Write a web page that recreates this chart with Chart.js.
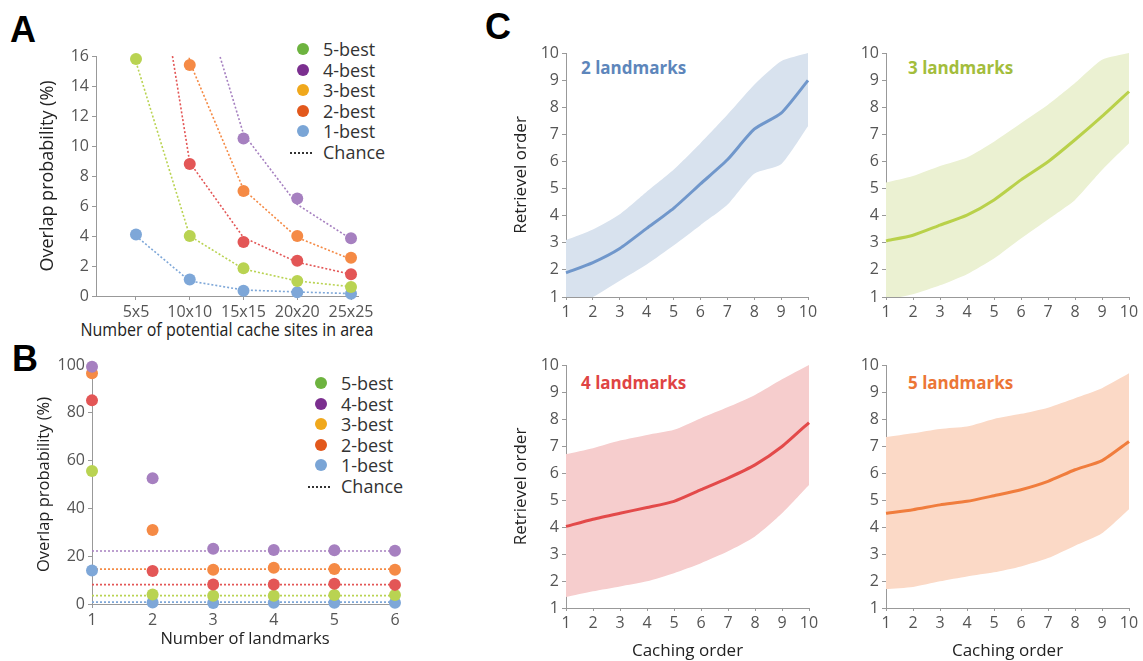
<!DOCTYPE html>
<html>
<head>
<meta charset="utf-8">
<script src="https://cdn.jsdelivr.net/npm/chart.js@4.4.1/dist/chart.umd.min.js"></script>
<style>
    body { margin: 0; width: 1143px; height: 661px; position: relative; background: #fff; overflow: hidden; font-family: 'Open Sans', sans-serif; }
    canvas { position: absolute; left: 0; top: 0; }
    .letter { position: absolute; font: bold 36px 'Liberation Sans', Arial, sans-serif; line-height: 36px; color: #000; }
    .legend { position: absolute; font-size: 18px; color: #333; }
    .legend div { position: relative; height: 20.6px; line-height: 20.6px; padding-left: 26px; white-space: nowrap; }
    .legend .dot { position: absolute; left: 0px; top: 4px; width: 12px; height: 12px; border-radius: 50%; padding: 0; }
    .legend .dash { position: absolute; left: -7px; top: 10px; width: 22px; border-top: 2px dotted #333; padding: 0; height: 0; }
    .ptitle { position: absolute; font: bold 17px 'Open Sans', sans-serif; line-height: 20px; white-space: nowrap; }
    .axtitle { position: absolute; font-size: 18px; line-height: 20px; color: #222; text-align: center; white-space: nowrap; transform: scaleX(0.89); transform-origin: center; }
</style>
</head>
<body>
<div class="letter" style="left:10px; top:12px;">A</div>
<div class="letter" style="left:12px; top:341px;">B</div>
<div class="letter" style="left:485px; top:9px;">C</div>

<div class="legend" id="legendA" style="left:297px; top:39px;"></div>
<div class="legend" id="legendB" style="left:315px; top:373px;"></div>

<div class="axtitle" style="left:27px; width:400px; top:319px;">Number of potential cache sites in area</div>

<div class="ptitle" style="left:581px; top:58px; color:#5d86bb;">2 landmarks</div>
<div class="ptitle" style="left:908px; top:58px; color:#a3bd3c;">3 landmarks</div>
<div class="ptitle" style="left:581px; top:373px; color:#df4444;">4 landmarks</div>
<div class="ptitle" style="left:908px; top:373px; color:#ec7636;">5 landmarks</div>

<canvas id="chartA" width="1143" height="661"></canvas>
<canvas id="chartB" width="1143" height="661"></canvas>
<canvas id="chartC1" width="1143" height="661"></canvas>
<canvas id="chartC2" width="1143" height="661"></canvas>
<canvas id="chartC3" width="1143" height="661"></canvas>
<canvas id="chartC4" width="1143" height="661"></canvas>

<script>
// ---- panel A: overlap vs area size ----
const sitesA = ['5x5', '10x10', '15x15', '20x20', '25x25'];
const a1best = [4.1, 1.1, 0.35, 0.25, 0.15];
const a2best = [null, 8.8, 3.6, 2.35, 1.45];
const a3best = [null, 15.4, 7.0, 4.0, 2.55];
const a4best = [null, null, 10.5, 6.5, 3.85];
const a5best = [15.8, 4.0, 1.85, 1.0, 0.6];
const aChance1 = [4.0, 1.0, 0.4, 0.27, 0.16];
const aChance2 = [31, 8.9, 3.9, 2.25, 1.45];
const aChance3 = [45, 15.6, 7.1, 3.9, 2.45];
const aChance4 = [60, 22.6, 10.8, 6.1, 3.8];
const aChance5 = [15.6, 4.0, 1.8, 1.0, 0.62];
const yTicksA = [0, 2, 4, 6, 8, 10, 12, 14, 16];

// ---- panel B: overlap vs number of landmarks ----
const landmarksB = [1, 2, 3, 4, 5, 6];
const b1best = [14, 0.6, 0.4, 0.5, 0.5, 0.5];
const b2best = [85.2, 13.8, 8.2, 8.2, 8.5, 8.0];
const b3best = [96.5, 31, 14.3, 15.2, 14.6, 14.3];
const b4best = [99.3, 52.6, 23.1, 22.6, 22.5, 22.3];
const b5best = [55.6, 4.0, 3.5, 3.5, 3.8, 3.8];
const bChance1 = [0.8, 0.8, 0.8, 0.8, 0.8, 0.8];
const bChance2 = [8.1, 8.1, 8.1, 8.1, 8.1, 8.1];
const bChance3 = [14.6, 14.6, 14.6, 14.6, 14.6, 14.6];
const bChance4 = [22.2, 22.2, 22.2, 22.2, 22.2, 22.2];
const bChance5 = [3.5, 3.5, 3.5, 3.5, 3.5, 3.5];

// ---- panel C: retrieval vs caching order ----
const cachingOrder = ['1', '2', '3', '4', '5', '6', '7', '8', '9', '10'];
const mean2 = [1.89, 2.27, 2.79, 3.53, 4.27, 5.17, 6.06, 7.19, 7.78, 8.99];
const upper2 = [3.10, 3.49, 4.05, 4.88, 5.69, 6.67, 7.72, 8.83, 9.7, 10];
const lower2 = [0.6, 1.0, 1.6, 2.2, 2.9, 3.65, 4.4, 5.55, 5.9, 7.3];
const mean3 = [3.07, 3.28, 3.65, 4.02, 4.58, 5.32, 5.99, 6.8, 7.66, 8.58];
const upper3 = [5.22, 5.46, 5.83, 6.15, 6.73, 7.41, 8.09, 8.89, 9.75, 10];
const lower3 = [0.9, 1.1, 1.43, 1.84, 2.42, 3.16, 3.86, 4.58, 5.68, 6.67];
const mean4 = [4.02, 4.29, 4.51, 4.72, 4.95, 5.38, 5.81, 6.30, 6.98, 7.87];
const upper4 = [6.70, 6.92, 7.20, 7.41, 7.60, 8.03, 8.44, 8.89, 9.47, 10];
const lower4 = [1.41, 1.62, 1.80, 1.99, 2.29, 2.66, 3.10, 3.65, 4.51, 5.56];
const mean5 = [4.51, 4.64, 4.82, 4.95, 5.16, 5.38, 5.69, 6.12, 6.46, 7.17];
const upper5 = [7.33, 7.47, 7.63, 7.72, 8.0, 8.19, 8.42, 8.77, 9.14, 9.69];
const lower5 = [1.70, 1.78, 1.99, 2.17, 2.32, 2.54, 2.85, 3.31, 3.77, 4.66];

const bestNames = ['5-best', '4-best', '3-best', '2-best', '1-best'];
const legendColors = ['#6db33f', '#7b2f8f', '#f0a81c', '#e2581c', '#7aa5d6'];
const plotColors = { c5: '#b9d352', c4: '#a680c0', c3: '#f58a45', c2: '#e35656', c1: '#7ea7d8' };

const tickFont = { family: 'Open Sans', size: 16 };
const axisGray = '#999';

function titleFont(size) {
    return { family: 'Open Sans', size: size, lineHeight: 1 };
}

function buildLegend(id) {
    const box = document.getElementById(id);
    bestNames.forEach((name, i) => {
        const row = document.createElement('div');
        row.innerHTML = `<span class="dot" style="background:${legendColors[i]}"></span>${name}`;
        box.appendChild(row);
    });
    const row = document.createElement('div');
    row.innerHTML = '<span class="dash"></span>Chance';
    box.appendChild(row);
}

function xyPoints(xs, ys) {
    return xs.map((x, i) => ({ x: x, y: ys[i] }));
}

function pointSet(data, color) {
    return { data, showLine: false, pointRadius: 6, pointHoverRadius: 6, pointBackgroundColor: color, pointBorderWidth: 0, borderWidth: 0, clip: false };
}

function chanceSet(data, color) {
    return { data, pointRadius: 0, borderColor: color, borderWidth: 1.6, borderDash: [2, 2], fill: false };
}

function baseAxis(opts) {
    return Object.assign({
        grid: { display: true, drawOnChartArea: false, tickLength: 4, color: axisGray },
        border: { display: true, color: axisGray, width: 1 },
        ticks: { font: tickFont, color: '#555', padding: 3, maxRotation: 0, autoSkip: false }
    }, opts);
}

// padding puts the plot area where the reference has it
function layoutFor(box, yW, xH) {
    return { padding: { left: box.left - yW, top: box.top, right: 1143 - box.right, bottom: 661 - box.bottom - xH } };
}

function commonOptions(box, yW, xH) {
    return {
        responsive: false,
        animation: false,
        layout: layoutFor(box, yW, xH),
        plugins: { legend: { display: false }, tooltip: { enabled: false } }
    };
}

document.addEventListener('DOMContentLoaded', () => {
    buildLegend('legendA');
    buildLegend('legendB');

    // ---------- A ----------
    const xA = sitesA.map((_, i) => i + 1);
    const boxA = { left: 96, top: 56, right: 358, bottom: 296 };
    const optsA = commonOptions(boxA, 57, 43);
    optsA.scales = {
        x: baseAxis({
            type: 'linear', min: 0.256, max: 5.13,
            afterBuildTicks: s => { s.ticks = xA.map(v => ({ value: v })); },
            afterFit: s => { s.height = 43; }
            // title is an html div: it is wider than the axis
        }),
        y: baseAxis({
            min: 0, max: 16,
            afterBuildTicks: s => { s.ticks = yTicksA.map(v => ({ value: v })); },
            afterFit: s => { s.width = 57; },
            title: { display: true, text: 'Overlap probability (%)', font: titleFont(18), color: '#222', padding: 0 }
        })
    };
    optsA.scales.x.ticks.callback = v => sitesA[v - 1];
    new Chart(document.getElementById('chartA'), {
        type: 'line',
        data: {
            datasets: [
                pointSet(xyPoints(xA, a4best), plotColors.c4),
                pointSet(xyPoints(xA, a3best), plotColors.c3),
                pointSet(xyPoints(xA, a2best), plotColors.c2),
                pointSet(xyPoints(xA, a5best), plotColors.c5),
                pointSet(xyPoints(xA, a1best), plotColors.c1),
                chanceSet(xyPoints(xA, aChance4), plotColors.c4),
                chanceSet(xyPoints(xA, aChance3), plotColors.c3),
                chanceSet(xyPoints(xA, aChance2), plotColors.c2),
                chanceSet(xyPoints(xA, aChance5), plotColors.c5),
                chanceSet(xyPoints(xA, aChance1), plotColors.c1)
            ]
        },
        options: optsA
    });

    // ---------- B ----------
    const boxB = { left: 92, top: 365, right: 398, bottom: 604 };
    const optsB = commonOptions(boxB, 56, 44);
    optsB.scales = {
        x: baseAxis({
            type: 'linear', min: 1, max: 6.05,
            afterBuildTicks: s => { s.ticks = landmarksB.map(v => ({ value: v })); },
            afterFit: s => { s.height = 44; },
            title: { display: true, text: 'Number of landmarks', font: titleFont(16.5), color: '#222', padding: 0 }
        }),
        y: baseAxis({
            min: 0, max: 100,
            ticks: { font: tickFont, color: '#555', padding: 3, stepSize: 20 },
            afterFit: s => { s.width = 56; },
            title: { display: true, text: 'Overlap probability (%)', font: titleFont(16.5), color: '#222', padding: 0 }
        })
    };
    new Chart(document.getElementById('chartB'), {
        type: 'line',
        data: {
            datasets: [
                pointSet(xyPoints(landmarksB, b4best), plotColors.c4),
                pointSet(xyPoints(landmarksB, b3best), plotColors.c3),
                pointSet(xyPoints(landmarksB, b2best), plotColors.c2),
                pointSet(xyPoints(landmarksB, b5best), plotColors.c5),
                pointSet(xyPoints(landmarksB, b1best), plotColors.c1),
                chanceSet(xyPoints(landmarksB, bChance4), plotColors.c4),
                chanceSet(xyPoints(landmarksB, bChance3), plotColors.c3),
                chanceSet(xyPoints(landmarksB, bChance2), plotColors.c2),
                chanceSet(xyPoints(landmarksB, bChance5), plotColors.c5),
                chanceSet(xyPoints(landmarksB, bChance1), plotColors.c1)
            ]
        },
        options: optsB
    });

    // ---------- C ----------
    function bandChart(id, box, mean, upper, lower, lineColor, fillColor, yTitle, xTitle) {
        const yW = yTitle ? box.left - 513 : 40;
        const xH = xTitle ? 660 - box.bottom : 30;
        const opts = commonOptions(box, yW, xH);
        opts.scales = {
            x: baseAxis({
                type: 'category', offset: false,
                grid: { display: true, drawOnChartArea: false, tickLength: 3, color: axisGray },
                afterFit: s => { s.height = xH; },
                title: { display: !!xTitle, text: xTitle || '', font: titleFont(17), color: '#222', padding: 0 }
            }),
            y: baseAxis({
                min: 1, max: 10,
                ticks: { font: tickFont, color: '#555', padding: 3, stepSize: 1 },
                afterFit: s => { s.width = yW; },
                title: { display: !!yTitle, text: yTitle || '', font: titleFont(17), color: '#222', padding: 0 }
            })
        };
        new Chart(document.getElementById(id), {
            type: 'line',
            data: {
                labels: cachingOrder,
                datasets: [
                    { data: mean, borderColor: lineColor, borderWidth: 3, pointRadius: 0, tension: 0.2, fill: false },
                    { data: upper, borderWidth: 0, pointRadius: 0, tension: 0.2, fill: false },
                    { data: lower, borderWidth: 0, pointRadius: 0, tension: 0.2, fill: '-1', backgroundColor: fillColor }
                ]
            },
            options: opts
        });
    }

    bandChart('chartC1', { left: 566, top: 53, right: 808, bottom: 297 }, mean2, upper2, lower2, '#7097cb', '#d8e2ee', 'Retrievel order', null);
    bandChart('chartC2', { left: 886, top: 53, right: 1129, bottom: 297 }, mean3, upper3, lower3, '#b9d14a', '#ebf1d2', null, null);
    bandChart('chartC3', { left: 566, top: 365, right: 809, bottom: 608 }, mean4, upper4, lower4, '#e34a4a', '#f6cdcd', 'Retrievel order', 'Caching order');
    bandChart('chartC4', { left: 886, top: 365, right: 1129, bottom: 608 }, mean5, upper5, lower5, '#f07d3d', '#fbd9c6', null, 'Caching order');
});
</script>
</body>
</html>
